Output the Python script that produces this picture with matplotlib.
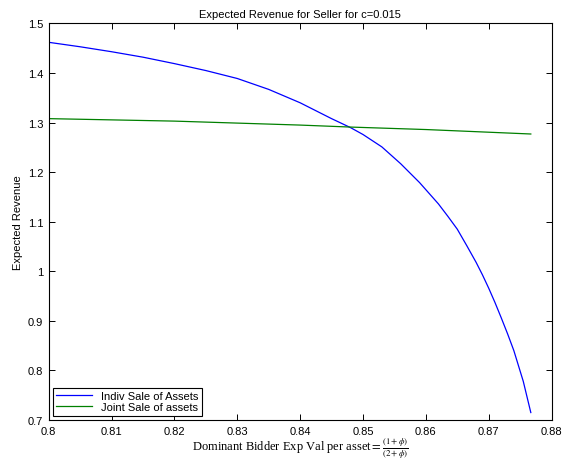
import matplotlib
matplotlib.use("Agg")
import matplotlib.pyplot as plt

# values
phi_indiv = [0.800, 0.805, 0.810, 0.815, 0.820, 0.825, 0.830, 0.835, 0.840, 0.845,
             0.848, 0.850, 0.853, 0.856, 0.859, 0.862, 0.8635, 0.865, 0.8665, 0.868,
             0.869, 0.870, 0.871, 0.872, 0.873, 0.874, 0.8755, 0.8767]
rev_indiv = [1.462, 1.453, 1.443, 1.432, 1.419, 1.405, 1.389, 1.367, 1.340, 1.308,
             1.290, 1.276, 1.251, 1.217, 1.179, 1.136, 1.111, 1.085, 1.052, 1.018,
             0.993, 0.966, 0.937, 0.906, 0.874, 0.840, 0.778, 0.715]

phi_joint = [0.800, 0.820, 0.840, 0.848, 0.860, 0.8767]
rev_joint = [1.308, 1.303, 1.295, 1.291, 1.286, 1.277]

xticks = [0.80, 0.81, 0.82, 0.83, 0.84, 0.85, 0.86, 0.87, 0.88]
xticklabels = ["0.8", "0.81", "0.82", "0.83", "0.84", "0.85", "0.86", "0.87", "0.88"]
yticks = [0.7, 0.8, 0.9, 1.0, 1.1, 1.2, 1.3, 1.4, 1.5]
yticklabels = ["0.7", "0.8", "0.9", "1", "1.1", "1.2", "1.3", "1.4", "1.5"]

plt.rcParams['font.family'] = ['Liberation Sans', 'DejaVu Sans']
plt.rcParams['mathtext.fontset'] = 'stix'

fig = plt.figure(figsize=(5.65, 4.6), dpi=100)
ax = fig.add_axes([0.0862, 0.0848, 0.890, 0.862])

ax.plot(phi_indiv, rev_indiv, color='#0000ff', lw=0.9, label='Indiv Sale of Assets')
ax.plot(phi_joint, rev_joint, color='#008000', lw=0.9, label='Joint Sale of assets')

ax.set_xlim(0.8, 0.88)
ax.set_ylim(0.7, 1.5)
ax.set_xticks(xticks)
ax.set_xticklabels(xticklabels)
ax.set_yticks(yticks)
ax.set_yticklabels(yticklabels)
ax.tick_params(direction='in', length=4, width=0.7, labelsize=8,
               top=True, right=True, pad=4)
for s in ax.spines.values():
    s.set_linewidth(0.8)

ax.set_title('Expected Revenue for Seller for c=0.015', fontsize=8, pad=5)
ax.set_ylabel('Expected Revenue', fontsize=8, labelpad=3)
ax.set_xlabel(r'Dominant Bidder Exp Val per asset$=\frac{(1+\phi)}{(2+\phi)}$',
              fontsize=9, family='Liberation Serif', labelpad=0)

leg = ax.legend(loc='lower left', fontsize=8, fancybox=False, framealpha=1,
                edgecolor='black', borderaxespad=0.4, handlelength=3.2,
                borderpad=0.3, labelspacing=0.1)
leg.get_frame().set_linewidth(0.8)

fig.savefig('out.png', dpi=100)
